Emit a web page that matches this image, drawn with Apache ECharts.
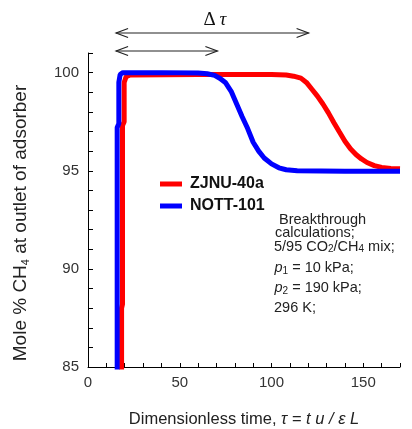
<!DOCTYPE html>
<html><head><meta charset="utf-8">
<script src="https://cdn.jsdelivr.net/npm/echarts@6/dist/echarts.min.js"></script>
<style>html,body{margin:0;padding:0;background:#fff}#c{width:412px;height:429px}</style>
</head><body><div id="c"></div>
<script>
// ---- data ----
const xTickLabels = [0, 50, 100, 150];
const yTickLabels = [85, 90, 95, 100];
const seriesNames = ['ZJNU-40a', 'NOTT-101'];
const zjnuTau = [18.3, 18.3, 18.8, 18.8, 19.7, 19.7, 20.8, 23, 60, 100, 108, 112, 116, 119, 122, 125, 128, 131, 134, 137, 140, 143, 146, 149, 152, 156, 160, 165, 170];
const zjnuCH4 = [80, 88, 88.2, 97.3, 97.5, 99.5, 99.8, 99.88, 99.9, 99.9, 99.88, 99.82, 99.72, 99.5, 99.15, 98.8, 98.4, 97.95, 97.45, 96.97, 96.5, 96.12, 95.83, 95.6, 95.42, 95.26, 95.17, 95.12, 95.1];
const nottTau = [15.9, 15.9, 16.8, 16.8, 17.5, 19, 40, 60, 65, 69, 72, 75, 78, 81, 84, 87, 90, 93, 96, 100, 104, 108, 114, 140, 170];
const nottCH4 = [80, 97.2, 97.4, 99.5, 99.9, 100, 100, 99.98, 99.94, 99.86, 99.7, 99.48, 99.05, 98.4, 97.75, 97.15, 96.45, 96.0, 95.65, 95.35, 95.15, 95.05, 95.0, 94.98, 94.98];
const arrowSpans = [[15.3, 120.2], [15.3, 70.5]];
const noteLines = [
  'Breakthrough',
  'calculations;',
  '5/95 CO{s|2}/CH{s|4} mix;',
  '{i|p}{s|1} = 10 kPa;',
  '{i|p}{s|2} = 190 kPa;',
  '296 K;'
];

const FONT = '"Liberation Sans", Arial, sans-serif';
const zip = (a, b) => a.map((v, i) => [v, b[i]]);
const chart = echarts.init(document.getElementById('c'));

const option = {
  animation: false,
  grid: { left: 88, right: 12, top: 53, bottom: 62, outerBoundsMode: 'none' },
  legend: {
    orient: 'vertical', left: 160, top: 176, padding: 0,
    itemWidth: 22, itemHeight: 5, itemGap: 6, icon: 'rect',
    selectedMode: false,
    data: seriesNames,
    textStyle: { fontSize: 16, fontWeight: 'bold', color: '#111', fontFamily: FONT, lineHeight: 14, padding: [0, 0, 0, 3] }
  },
  xAxis: {
    type: 'value', min: 0, max: 170, interval: 10,
    axisLine: { show: true, onZero: false, lineStyle: { color: '#000', width: 1 } },
    axisTick: { show: true, inside: true, length: 4, lineStyle: { color: '#000' } },
    axisLabel: { formatter: v => xTickLabels.includes(v) ? String(v) : '', fontSize: 15, color: '#333', fontFamily: FONT, margin: 8 },
    splitLine: { show: false },
    name: 'Dimensionless time, {i|τ = t u / ε L}', nameLocation: 'middle', nameGap: 44,
    nameTextStyle: { fontSize: 16.5, color: '#222', fontFamily: FONT,
      rich: { i: { fontStyle: 'italic', fontSize: 16.5, fontFamily: FONT, color: '#222' } } }
  },
  yAxis: {
    type: 'value', min: 85, max: 101, interval: 1,
    axisLine: { show: true, onZero: false, lineStyle: { color: '#000', width: 1 } },
    axisTick: { show: true, inside: true, length: 5, lineStyle: { color: '#000' } },
    axisLabel: { formatter: v => yTickLabels.includes(v) ? String(v) : '', fontSize: 15, color: '#333', fontFamily: FONT, margin: 9 },
    splitLine: { show: false }
  },
  series: [
    { name: seriesNames[0], type: 'line', data: zip(zjnuTau, zjnuCH4),
      showSymbol: false, clip: true, color: '#ff0000', lineStyle: { width: 5, color: '#ff0000' } },
    { name: seriesNames[1], type: 'line', data: zip(nottTau, nottCH4),
      showSymbol: false, clip: true, color: '#0000ff', lineStyle: { width: 5, color: '#0000ff' } }
  ]
};
chart.setOption(option);

// ---- annotations ----
const graphics = [];
const AR = { stroke: '#222', lineWidth: 1.2, fill: null };
const arrowY = [33, 51];
arrowSpans.forEach((sp, k) => {
  const x1 = chart.convertToPixel({ xAxisIndex: 0 }, sp[0]);
  const x2 = chart.convertToPixel({ xAxisIndex: 0 }, sp[1]);
  const y = arrowY[k];
  graphics.push({ type: 'line', shape: { x1: x1, y1: y, x2: x2, y2: y }, style: AR });
  graphics.push({ type: 'polyline', shape: { points: [[x1 + 12, y - 4.5], [x1, y], [x1 + 12, y + 4.5]] }, style: AR });
  graphics.push({ type: 'polyline', shape: { points: [[x2 - 12, y - 4.5], [x2, y], [x2 - 12, y + 4.5]] }, style: AR });
});
graphics.push({ type: 'text', x: 215, y: 20, style: {
  text: 'Δ\u2009{t|τ}', fontSize: 19, fontFamily: '"Liberation Serif", "DejaVu Serif", serif', fill: '#111',
  align: 'center', verticalAlign: 'middle',
  rich: { t: { fontStyle: 'italic', fontSize: 19, fontFamily: '"Liberation Serif", "DejaVu Serif", serif', fill: '#111' } } } });

// y axis title
graphics.push({ type: 'text', x: 21, y: 223, rotation: Math.PI / 2, style: {
  text: 'Mole % CH{s|4} at outlet of adsorber', fontSize: 19, fontFamily: FONT, fill: '#222',
  align: 'center', verticalAlign: 'middle', lineHeight: 20,
  rich: { s: { fontSize: 11, fontFamily: FONT, fill: '#222', lineHeight: 9, verticalAlign: 'bottom' } } } });

// note block
const noteX = [279, 275, 274, 274.5, 274.5, 274];
const noteY = [220, 233.3, 246.7, 268.3, 288.3, 307.7];
noteLines.forEach((t, k) => {
  graphics.push({ type: 'text', x: noteX[k], y: noteY[k], style: {
    text: t, fontSize: 14.5, fontFamily: FONT, fill: '#222', align: 'left', verticalAlign: 'middle', lineHeight: 16,
    rich: {
      s: { fontSize: 10, fontFamily: FONT, fill: '#222', lineHeight: 8, verticalAlign: 'bottom' },
      i: { fontSize: 14.5, fontStyle: 'italic', fontFamily: FONT, fill: '#222', lineHeight: 16 }
    } } });
});
chart.setOption({ graphic: graphics });
</script>
</body></html>
